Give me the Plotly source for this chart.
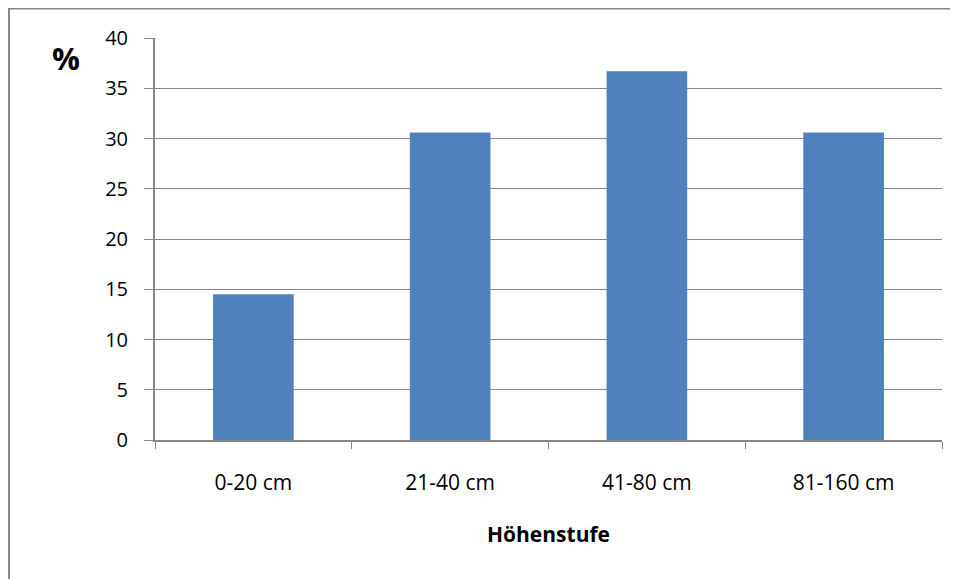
import plotly.graph_objects as go

categories = ["0-20 cm", "21-40 cm", "41-80 cm", "81-160 cm"]
values = [14.5, 30.6, 36.7, 30.6]
y_ticks = [0, 5, 10, 15, 20, 25, 30, 35, 40]

# page body has an 8px margin; work in window pixels and convert
OFF = 8
W, H = 958 - OFF, 579 - OFF
PL, PR, PT, PB = 155, 942, 37.5, 440.5  # plot area in window pixels
L, T = PL - OFF, PT - OFF
R, B = W - (PR - OFF), H - (PB - OFF)
pw, ph = W - L - R, H - T - B

def px_to_paper_x(px):
    return (px - OFF - L) / pw

def px_to_paper_y(py):
    return (H - B - (py - OFF)) / ph

fig = go.Figure(go.Bar(x=categories, y=values, marker=dict(color="#4F81BD", line=dict(width=0)),
                       width=0.41))

font_fam = "Open Sans, Liberation Sans, sans-serif"
fig.update_layout(
    width=W, height=H,
    margin=dict(l=L, r=R, t=T, b=B, pad=0),
    plot_bgcolor="white", paper_bgcolor="white",
    showlegend=False,
    font=dict(family=font_fam, color="#000000"),
    xaxis=dict(
        showgrid=False, showline=True, linecolor="#868686", linewidth=2,
        ticks="outside", tickson="boundaries", ticklen=7, tickcolor="#868686", tickwidth=1,
        tickfont=dict(size=21, family=font_fam), ticklabelstandoff=23,
        title=dict(text="<b>Höhenstufe</b>", font=dict(size=21, family=font_fam), standoff=32),
    ),
    yaxis=dict(
        range=[0, 40], tickvals=y_ticks, showgrid=True, gridcolor="#868686", gridwidth=1,
        showline=True, linecolor="#868686", linewidth=2, zeroline=False,
        ticks="outside", ticklen=9, tickcolor="#868686", tickwidth=1,
        tickfont=dict(size=20, family=font_fam), ticklabelstandoff=12,
    ),
    shapes=[dict(type="rect", xref="paper", yref="paper",
                 x0=px_to_paper_x(8.5), x1=px_to_paper_x(975),
                 y0=px_to_paper_y(600), y1=px_to_paper_y(7.5),
                 line=dict(color="#868686", width=3), fillcolor="rgba(0,0,0,0)", layer="below")],
    annotations=[dict(text="<b>%</b>", xref="paper", yref="paper",
                      x=px_to_paper_x(66), y=px_to_paper_y(58), showarrow=False,
                      font=dict(size=31, family=font_fam), xanchor="center", yanchor="middle")],
)

fig.write_html("out.html")
